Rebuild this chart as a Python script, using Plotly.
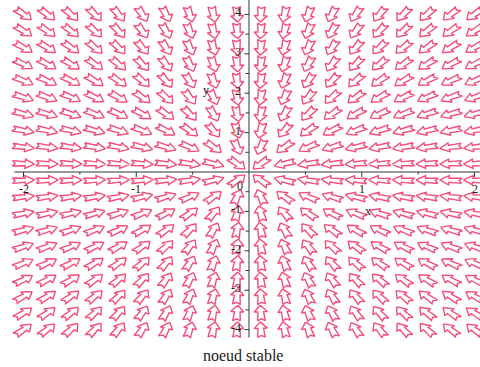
import numpy as np
import plotly.graph_objects as go

# Linear system  x' = -x,  y' = -y : stable node at the origin
def field(x, y):
    return -x, -y

# Direction-field window and grid (20 x 20 arrows)
x_range = (-2.0, 2.0)
y_range = (-4.0, 4.0)
n_grid = 20

# Axis ticks and labels
x_major = [-2, -1, 1, 2]
x_major_labels = ["-2", "-1", "1", "2"]
x_minor = [-1.5, -0.5, 0.5, 1.5]
y_major = [-4, -3, -2, -1, 1, 2, 3, 4]
y_major_labels = ["-4", "-3", "-2", "-1", "1", "2", "3", "4"]
y_minor = [-3.5, -2.5, -1.5, -0.5, 0.5, 1.5, 2.5, 3.5]

caption = "noeud stable"

# ---- figure geometry (pixels) ----
FIG_W, FIG_H = 480, 367
PX_X = 112.75   # pixels per x unit
PX_Y = 39.4     # pixels per y unit
X0_PX, Y0_PX = 249.0, 172.0  # pixel position of the origin
xlim = [(0 - X0_PX) / PX_X, (FIG_W - X0_PX) / PX_X]
ylim = [-(FIG_H - Y0_PX) / PX_Y, Y0_PX / PX_Y]

ARROW_COLOR = "rgb(244,78,122)"
AXIS_COLOR = "#2c3434"
SERIF = "Liberation Serif, DejaVu Serif, serif"

# ---- hollow block arrows, built in window-normalised coordinates ----
W = x_range[1] - x_range[0]
H = y_range[1] - y_range[0]
L = 0.049          # arrow length
hl = 0.42 * L      # head length
hw = 0.029         # head width
sw = 0.0125        # shaft width
outline = [
    (L / 2, 0.0),
    (L / 2 - hl, hw / 2),
    (L / 2 - hl, sw / 2),
    (-L / 2, sw / 2 * 1.35),
    (-L / 2 + 0.12 * L, 0.0),
    (-L / 2, -sw / 2 * 1.35),
    (L / 2 - hl, -sw / 2),
    (L / 2 - hl, -hw / 2),
    (L / 2, 0.0),
]

ax, ay = [], []
for gx in np.linspace(x_range[0], x_range[1], n_grid):
    for gy in np.linspace(y_range[0], y_range[1], n_grid):
        fx, fy = field(gx, gy)
        du, dv = fx / W, fy / H
        nrm = np.hypot(du, dv)
        if nrm == 0:
            continue
        tu, tv = du / nrm, dv / nrm
        nu, nv = -tv, tu
        for a, b in outline:
            u = a * tu + b * nu
            v = a * tv + b * nv
            ax.append(gx + u * W)
            ay.append(gy + v * H)
        ax.append(None)
        ay.append(None)

fig = go.Figure()
fig.add_trace(go.Scatter(
    x=ax, y=ay, mode="lines",
    line=dict(color=ARROW_COLOR, width=1.4),
    hoverinfo="skip", showlegend=False,
))

# ---- axes through the origin ----
def seg_trace(xs, ys, width=1.0):
    return go.Scatter(x=xs, y=ys, mode="lines",
                      line=dict(color=AXIS_COLOR, width=width),
                      hoverinfo="skip", showlegend=False)

fig.add_trace(seg_trace([-2.08, xlim[1]], [0, 0]))
fig.add_trace(seg_trace([0, 0], [ylim[1], -4.2]))

# tick marks
tx, ty = [], []
for v in x_major:
    tx += [v, v, None]; ty += [0, -5 / PX_Y, None]
for v in x_minor:
    tx += [v, v, None]; ty += [0, -2.5 / PX_Y, None]
for v in y_major:
    tx += [0, -4.5 / PX_X, None]; ty += [v, v, None]
for v in y_minor:
    tx += [0, -3.5 / PX_X, None]; ty += [v, v, None]
fig.add_trace(seg_trace(tx, ty))

annotations = []
for v, t in zip(x_major, x_major_labels):
    annotations.append(dict(x=v, y=-17 / PX_Y, text=t, showarrow=False,
                            xanchor="center", yanchor="middle",
                            font=dict(family=SERIF, size=12, color="#1a2020")))
for v, t in zip(y_major, y_major_labels):
    annotations.append(dict(x=-6 / PX_X, y=v + 2 / PX_Y, text=t, showarrow=False,
                            xanchor="right", yanchor="middle",
                            font=dict(family=SERIF, size=12, color="#1a2020")))
annotations.append(dict(x=-9 / PX_X, y=-14 / PX_Y, text="0", showarrow=False,
                        xanchor="center", yanchor="middle",
                        font=dict(family=SERIF, size=12, color="#1a2020")))
# axis names
annotations.append(dict(x=(368 - X0_PX) / PX_X, y=(Y0_PX - 211) / PX_Y, text="x",
                        showarrow=False, xanchor="center", yanchor="middle",
                        font=dict(family=SERIF, size=12, color="#1a2020")))
annotations.append(dict(x=(206 - X0_PX) / PX_X, y=(Y0_PX - 90) / PX_Y, text="y",
                        showarrow=False, xanchor="center", yanchor="middle",
                        font=dict(family=SERIF, size=12, color="#1a2020")))
# caption
annotations.append(dict(x=(243 - X0_PX) / PX_X, y=(Y0_PX - 355) / PX_Y, text=caption,
                        showarrow=False, xanchor="center", yanchor="middle",
                        font=dict(family=SERIF, size=16, color="#1a1a1a")))

fig.update_layout(
    width=FIG_W, height=FIG_H,
    margin=dict(l=0, r=0, t=0, b=0),
    paper_bgcolor="white", plot_bgcolor="white",
    xaxis=dict(range=xlim, visible=False, fixedrange=True),
    yaxis=dict(range=ylim, visible=False, fixedrange=True),
    annotations=annotations,
    showlegend=False,
)

fig.write_html("out.html")
